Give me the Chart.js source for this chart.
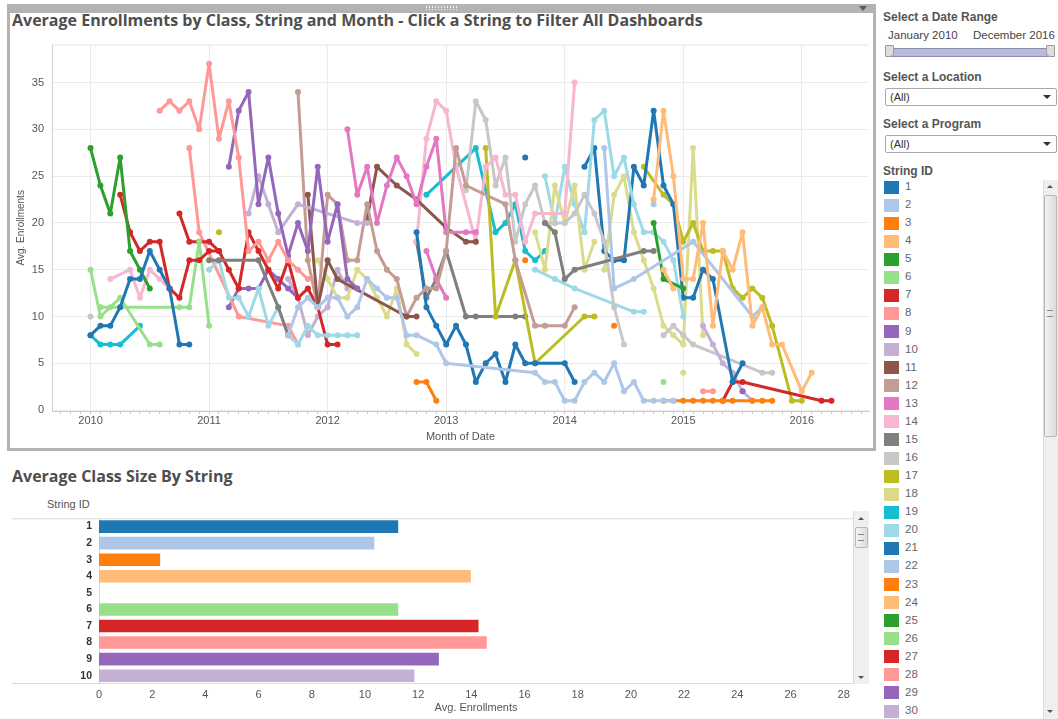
<!DOCTYPE html>
<html>
<head>
<meta charset="utf-8">
<script src="https://cdn.jsdelivr.net/npm/chart.js@4.4.1/dist/chart.umd.min.js"></script>
<style>
  body { margin: 0; width: 1058px; height: 719px; overflow: hidden; background: #fff; position: relative;
         font-family: "Liberation Sans", Arial, sans-serif; }
  .abs { position: absolute; }
  #frame { left: 7px; top: 4px; width: 863px; height: 435px; border: 3px solid #b3b3b3; border-top: 9px solid #b3b3b3; }
  #grip { left: 426px; top: 6px; width: 32px; height: 4px;
          background: repeating-linear-gradient(90deg, #f4f4f4 0 1px, transparent 1px 3px); }
  #grip2 { left: 426px; top: 8px; width: 32px; height: 1px; background: #b3b3b3; }
  #menu { left: 859px; top: 6px; width: 0; height: 0; border-left: 4px solid transparent; border-right: 4px solid transparent; border-top: 5px solid #5a5a5a; }
  .title { font-family: "Open Sans", sans-serif; font-weight: 700; font-size: 16px; color: #4e4e4e; white-space: nowrap; }
  .head { font-weight: 700; font-size: 12px; color: #555; white-space: nowrap; }
  .small { font-size: 11.5px; color: #444; white-space: nowrap; }
  .drop { left: 885px; width: 170px; height: 16px; border: 1px solid #a9a9a9; border-radius: 2px; background: #fff; }
  .drop span { position: absolute; left: 4px; top: 2px; font-size: 11px; color: #333; }
  .drop i { position: absolute; right: 5px; top: 6px; border-left: 4px solid transparent; border-right: 4px solid transparent; border-top: 4px solid #333; }
  .sw { width: 15px; height: 13px; left: 884px; }
  .lab { left: 905px; font-size: 11.5px; color: #666; }
  .sb { background: #efefef; border-left: 1px solid #dcdcdc; }
  .thumb { background: linear-gradient(90deg, #f3f3f3, #dcdcdc); border: 1px solid #b8b8b8; border-radius: 2px; }
  .up { width: 0; height: 0; border-left: 3px solid transparent; border-right: 3px solid transparent; border-bottom: 3px solid #555; }
  .down { width: 0; height: 0; border-left: 3px solid transparent; border-right: 3px solid transparent; border-top: 3px solid #555; }
</style>
</head>
<body>
<div id="frame" class="abs"></div>
<div id="grip" class="abs"></div>
<div id="grip2" class="abs"></div>
<div id="menu" class="abs"></div>
<div class="abs title" style="left:12px;top:9px;">Average Enrollments by Class, String and Month - Click a String to Filter All Dashboards</div>
<canvas id="lineChart" class="abs" width="862" height="418" style="left:11px;top:30px;"></canvas>

<div class="abs title" style="left:12px;top:465px;">Average Class Size By String</div>
<div class="abs" style="left:47px;top:498px;font-size:11px;color:#555;">String ID</div>
<canvas id="barChart" class="abs" width="842" height="214" style="left:12px;top:505px;"></canvas>
<div class="abs sb" style="left:853px;top:511px;width:15px;height:173px;"></div>
<div class="abs up" style="left:858px;top:517px;"></div>
<div class="abs thumb" style="left:855px;top:527px;width:11px;height:19px;"></div>
<div class="abs" style="left:858px;top:534px;width:6px;height:5px;border-top:1px solid #888;border-bottom:1px solid #888;"></div>
<div class="abs down" style="left:858px;top:676px;"></div>

<div class="abs head" style="left:883px;top:10px;">Select a Date Range</div>
<div class="abs small" style="left:888px;top:29px;">January 2010</div>
<div class="abs small" style="left:973px;top:29px;">December 2016</div>
<div class="abs" style="left:889px;top:48px;width:160px;height:7px;background:#b9b9d8;border-top:1px solid #8c8cae;border-bottom:1px solid #8c8cae;"></div>
<div class="abs" style="left:885px;top:45px;width:7px;height:10px;background:#dedede;border:1px solid #9a9a9a;border-radius:1px 1px 4px 1px;"></div>
<div class="abs" style="left:1046px;top:45px;width:7px;height:10px;background:#dedede;border:1px solid #9a9a9a;border-radius:1px 1px 1px 4px;"></div>

<div class="abs head" style="left:883px;top:70px;">Select a Location</div>
<div class="abs drop" style="top:88px;"><span>(All)</span><i></i></div>
<div class="abs head" style="left:883px;top:117px;">Select a Program</div>
<div class="abs drop" style="top:135px;"><span>(All)</span><i></i></div>
<div class="abs head" style="left:883px;top:164px;">String ID</div>
<div id="legend"></div>
<div class="abs sb" style="left:1043px;top:180px;width:14px;height:539px;"></div>
<div class="abs up" style="left:1047px;top:185px;"></div>
<div class="abs thumb" style="left:1044px;top:195px;width:11px;height:240px;"></div>
<div class="abs" style="left:1047px;top:310px;width:6px;height:5px;border-top:1px solid #888;border-bottom:1px solid #888;"></div>
<div class="abs down" style="left:1047px;top:710px;"></div>

<script>
// month index: 0 = January 2010
const string1 = [[0,8],[1,9],[2,9],[3,11],[4,14],[5,14],[6,17],[7,15],[8,13],[9,7],[10,7]];
const string2 = [[20,8],[21,11],[22,12],[23,11],[24,12],[25,12],[26,10],[27,11],[28,14],[29,13],[30,12],[31,12],[32,8],[33,8],[35,7],[36,5],[45,4],[46,3],[47,3],[48,1],[49,1],[50,3],[51,4],[52,3],[53,5],[54,2],[55,3],[56,1],[57,1],[58,1],[59,1]];
const string3 = [[33,3],[34,3],[35,1]];
const string4 = [[57,22.5],[58,32],[59,25],[60,14],[61,14],[62,20],[63,9],[64,17],[65,15],[66,19],[67,9],[68,11],[69,7],[70,7],[72,2],[73,4]];
const string5 = [[0,28],[1,24],[2,21],[3,27],[4,17],[5,15],[6,13]];
const string6 = [[0,15],[1,10],[2,11],[3,12],[6,7],[7,7]];
const string7 = [[3,23],[4,19],[5,17],[6,18],[7,18],[8,13],[9,12],[10,16],[11,16],[12,17],[13,17]];
const string8 = [[7,32],[8,33],[9,32],[10,33],[11,30],[12,37],[13,29],[14,33],[15,27],[16,17],[17,18],[18,16],[19,18],[20,16],[21,15],[22,14]];
const string9 = [[14,26],[15,32],[16,34],[17,22],[18,27],[19,21],[20,16.5],[21,20],[22,17],[23,26],[24,18],[25,22],[26,14],[27,13]];
const string10 = [[16,21],[17,25],[18,22],[19,19],[21,22],[27,20],[28,20]];
const string11 = [[22,23],[23,11],[24,16],[25,14],[32,10],[33,10]];
const string12 = [[21,34],[22,16],[23,11],[24,23],[25,22],[26,16],[27,16],[28,22],[29,17],[30,15],[31,14],[32,10],[33,12],[34,13],[35,13],[36,17],[37,28],[38,24],[42,22],[43,16],[45,9],[46,9],[48,9],[49,11]];
const string13 = [[26,30],[27,23],[28,26],[29,20],[30,24],[31,27],[32,25],[33,22],[34,26],[35,29],[36,19],[38,19],[39,19]];
const string14 = [[2,14],[4,15],[5,12],[6,15],[7,14],[8,13]];
const string15 = [[12,16],[13,16],[17,16],[19,11],[20,8]];
const string16 = [[0,10]];
const string17 = [[13,19]];
const string18 = [[23,16],[24,14],[25,12],[26,12],[27,15],[28,14],[29,12],[30,10],[31,13],[32,7],[33,6]];
const string19 = [[0,8],[1,7],[2,7],[3,7],[5,9]];
const string20 = [[12,15],[13,16],[14,12],[15,12],[16,10],[17,13],[18,9],[19,11],[20,8],[21,7],[22,9],[23,8],[24,8],[25,8],[26,8],[27,8]];
const string21 = [[33,19],[34,11],[35,9],[36,7],[37,9],[38,7],[39,3],[40,5],[41,6],[42,3],[43,7],[44,5],[45,5],[48,5],[49,3]];
const string22 = [[52,28],[53,13],[55,14],[61,18],[67,10],[68,11]];
const string23 = [[58,1],[59,1],[60,1],[61,1],[62,1],[63,1],[64,1],[65,1],[67,1],[68,1],[69,1]];
const string24 = [[58,15],[59,13]];
const string25 = [[57,20],[58,14],[60,13]];
const string26 = [[1,11],[9,11],[10,11],[11,18],[12,9]];
const string27 = [[9,21],[10,18],[11,18],[12,18],[13,17],[14,15],[15,13],[16,19],[17,17],[18,15],[19,13],[20,16],[21,12],[22,13],[23,11],[24,7],[25,7]];
const string28 = [[10,28],[11,19],[15,10],[20,9],[21,7]];
const string29 = [[14,11],[15,13],[16,13],[17,13],[18,15],[19,14],[20,13],[21,12]];
const string30 = [[20,14],[21,12],[22,8],[23,10],[24,11],[25,15],[26,13],[27,13]];
const string31 = [[28,20.5],[29,26],[31,24],[33,22.5],[36,19.5],[38,18],[39,18]];
const string33 = [[34,17],[35,14],[36,12]];
const string34 = [[33,18],[34,29],[35,33],[36,32],[37,26],[39,18],[40,26],[41,27],[42,23],[43,23],[44,18],[45,21],[48,21],[49,35]];
const string35 = [[46,20],[47,19],[48,14],[49,15],[56,17],[57,17]];
const string36 = [[38,23.5],[39,33],[40,31],[41,24],[42,27],[43,18],[44,22],[45,24],[46,20],[47,20],[48,20],[49,21],[50,23],[51,21],[52,18],[53,11],[54,7]];
const string37 = [[40,28],[41,10],[43,16],[45,5],[50,10],[51,10]];
const string38 = [[45,19],[46,15],[47,24],[48,20],[49,24],[50,15],[51,18]];
const string39 = [[34,23],[39,28],[41,19],[42,20],[43,22],[44,17],[45,16],[46,17]];
const string40 = [[46,25],[47,20],[48,26],[49,22],[50,19],[51,31],[52,32],[53,25],[54,27],[55,22],[56,19],[57,19],[58,18],[59,16],[60,10]];
const string41 = [[50,26],[51,28],[52,17],[53,16],[54,16],[55,26],[56,24],[57,32],[58,24],[59,22],[60,12],[61,12],[62,15],[63,14],[65,3],[66,5]];
const string43 = [[44,16]];
const string46 = [[58,3]];
const string47 = [[64,1],[65,3],[66,3],[74,1],[75,1]];
const string48 = [[62,2],[63,2]];
const string49 = [[66,2]];
const string50 = [[62,9],[63,7],[64,5],[65,4],[66,2],[67,1]];
const string55 = [[33,18],[34,12],[35,14],[36,17],[38,10],[39,10],[43,10],[44,10]];
const string56 = [[58,8],[59,9],[60,8],[61,7],[68,4],[69,4]];
const string57 = [[56,26],[58,23],[59,22],[60,18],[61,20],[62,17],[63,17],[64,17],[65,13],[66,12],[67,13],[68,12],[69,9],[71,1],[72,1]];
const string58 = [[52,15],[53,23],[54,25],[55,19],[56,16],[57,13],[58,9],[59,8],[60,7],[61,28],[62,8]];
const string60 = [[45,15],[47,14],[49,13],[55,10.5],[56,10.5]];
const string61 = [[44,27]];
const string62 = [[57,22]];
const string63 = [[53,9]];
const string78 = [[60,4]];

const yearTicks = [0, 12, 24, 36, 48, 60, 72];
const yearLabels = ['2010', '2011', '2012', '2013', '2014', '2015', '2016'];
const enrollTicks = [0, 5, 10, 15, 20, 25, 30, 35];

const barStrings = ['1', '2', '3', '4', '5', '6', '7', '8', '9', '10'];
const barAverages = [11.25, 10.35, 2.3, 13.98, null, 11.25, 14.27, 14.58, 12.78, 11.86];
const sizeTicks = [0, 2, 4, 6, 8, 10, 12, 14, 16, 18, 20, 22, 24, 26, 28];

const legendIds = [1,2,3,4,5,6,7,8,9,10,11,12,13,14,15,16,17,18,19,20,21,22,23,24,25,26,27,28,29,30];

const palette = ['#1f77b4','#aec7e8','#ff7f0e','#ffbb78','#2ca02c','#98df8a','#d62728','#ff9896','#9467bd','#c5b0d5',
                 '#8c564b','#c49c94','#e377c2','#f7b6d2','#7f7f7f','#c7c7c7','#bcbd22','#dbdb8d','#17becf','#9edae5'];
const colorOf = id => palette[(id - 1) % 20];

const lineStrings = [
  [1,string1],[2,string2],[3,string3],[4,string4],[5,string5],[6,string6],[7,string7],[8,string8],[9,string9],[10,string10],
  [11,string11],[12,string12],[13,string13],[14,string14],[15,string15],[16,string16],[17,string17],[18,string18],[19,string19],[20,string20],
  [21,string21],[22,string22],[23,string23],[24,string24],[25,string25],[26,string26],[27,string27],[28,string28],[29,string29],[30,string30],
  [31,string31],[33,string33],[34,string34],[35,string35],[36,string36],[37,string37],[38,string38],[39,string39],[40,string40],
  [41,string41],[43,string43],[46,string46],[47,string47],[48,string48],[49,string49],[50,string50],[55,string55],[56,string56],
  [57,string57],[58,string58],[60,string60],[61,string61],[62,string62],[63,string63],[78,string78]
];

// legend on the right
const legend = document.getElementById('legend');
legendIds.forEach((id, i) => {
  const y = 180.5 + i * 18.07;
  legend.insertAdjacentHTML('beforeend',
    `<div class="abs sw" style="top:${y}px;background:${colorOf(id)}"></div>` +
    `<div class="abs lab" style="top:${y - 0.5}px">${id}</div>`);
});

const tickFont = { family: '"Liberation Sans", Arial, sans-serif', size: 11 };

// Top: average enrollments by month
const frameLine = {
  id: 'frameLine',
  afterDraw(chart) {
    const { ctx, chartArea } = chart;
    ctx.save();
    ctx.strokeStyle = '#e3e3e3';
    ctx.lineWidth = 1;
    ctx.beginPath();
    ctx.moveTo(chartArea.left, chartArea.top + 0.5);
    ctx.lineTo(chartArea.right, chartArea.top + 0.5);
    ctx.stroke();
    ctx.restore();
  }
};

new Chart(document.getElementById('lineChart').getContext('2d'), {
  type: 'line',
  data: {
    datasets: lineStrings.map(([id, pts]) => ({
      label: 'String ' + id,
      data: pts,
      borderColor: colorOf(id),
      backgroundColor: colorOf(id),
      borderWidth: 3,
      borderJoinStyle: 'round',
      borderCapStyle: 'round',
      pointRadius: 3,
      pointBorderWidth: 0,
      tension: 0
    }))
  },
  options: {
    responsive: false,
    animation: false,
    devicePixelRatio: 1,
    layout: { padding: { top: 5, right: 2, left: 0, bottom: 0 } },
    plugins: { legend: { display: false }, tooltip: { enabled: false } },
    scales: {
      x: {
        type: 'linear', min: -3.9, max: 78.8,
        afterBuildTicks: s => {
          const t = [];
          for (let m = -3; m <= 78; m++) t.push({ value: m });
          s.ticks = t;
        },
        afterFit: s => { s.height = 37; },
        ticks: {
          autoSkip: false, maxRotation: 0, padding: 0, color: '#555', font: tickFont,
          callback: v => { const k = yearTicks.indexOf(v); return k >= 0 ? yearLabels[k] : ''; }
        },
        grid: {
          color: c => (c.tick && yearTicks.includes(c.tick.value)) ? '#ebebeb' : 'rgba(0,0,0,0)',
          tickColor: '#c4c4c4', tickLength: 3
        },
        border: { color: '#cfcfcf' },
        title: { display: true, text: 'Month of Date', color: '#555', font: tickFont }
      },
      y: {
        min: -0.1, max: 39.06,
        afterBuildTicks: s => { s.ticks = enrollTicks.map(v => ({ value: v })); },
        afterFit: s => { s.width = 41; },
        ticks: { padding: 8, color: '#555', font: tickFont },
        grid: { color: '#ebebeb', drawTicks: false },
        border: { color: '#cfcfcf' },
        title: { display: true, text: 'Avg. Enrollments', color: '#555', font: { family: tickFont.family, size: 10 } }
      }
    }
  },
  plugins: [frameLine]
});

// Bottom: average class size by string
const rowLines = {
  id: 'rowLines',
  afterDraw(chart) {
    const { ctx, chartArea } = chart;
    ctx.save();
    ctx.strokeStyle = '#dadada';
    ctx.lineWidth = 1;
    ctx.beginPath();
    ctx.moveTo(0, chartArea.top + 0.5);
    ctx.lineTo(chartArea.right, chartArea.top + 0.5);
    ctx.moveTo(0, chartArea.bottom - 0.5);
    ctx.lineTo(chartArea.right, chartArea.bottom - 0.5);
    ctx.stroke();
    ctx.restore();
  }
};

new Chart(document.getElementById('barChart').getContext('2d'), {
  type: 'bar',
  data: {
    labels: barStrings,
    datasets: [{
      label: 'Avg. Enrollments',
      data: barAverages,
      backgroundColor: barStrings.map(s => colorOf(Number(s))),
      borderWidth: 0,
      barPercentage: 0.76,
      categoryPercentage: 1
    }]
  },
  options: {
    indexAxis: 'y',
    responsive: false,
    animation: false,
    devicePixelRatio: 1,
    layout: { padding: { top: 6, right: 1, left: 0, bottom: 0 } },
    plugins: { legend: { display: false }, tooltip: { enabled: false } },
    scales: {
      x: {
        min: 0, max: 28.35,
        afterBuildTicks: s => { s.ticks = sizeTicks.map(v => ({ value: v })); },
        afterFit: s => { s.height = 35; },
        ticks: { padding: 4, color: '#555', font: tickFont },
        grid: { display: false, drawTicks: false },
        border: { display: false },
        title: { display: true, text: 'Avg. Enrollments', color: '#555', font: tickFont }
      },
      y: {
        afterFit: s => { s.width = 87; },
        ticks: { padding: 7, color: '#333', font: { family: tickFont.family, size: 10.5, weight: 'bold' } },
        grid: { display: false, drawTicks: false },
        border: { color: '#d9d9d9' }
      }
    }
  },
  plugins: [rowLines]
});
</script>
</body>
</html>
